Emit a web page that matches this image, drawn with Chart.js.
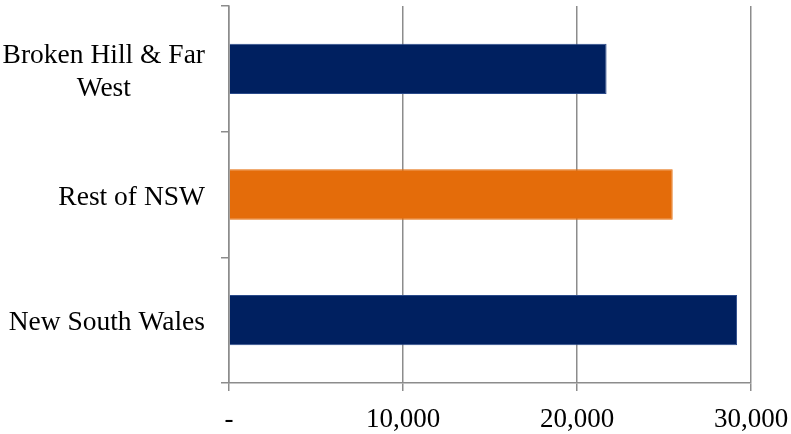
<!DOCTYPE html>
<html>
<head>
<meta charset="utf-8">
<script src="https://cdn.jsdelivr.net/npm/chart.js@4"></script>
<style>
  html, body { margin: 0; padding: 0; background: #ffffff; }
  #wrap { width: 791px; height: 434px; position: relative; }
</style>
</head>
<body>
<div id="wrap"><canvas id="c" width="791" height="434"></canvas></div>
<script>
// ---- data ----
const categories = [['Broken Hill & Far', 'West'], ['Rest of NSW'], ['New South Wales']];
const values = [21700, 25500, 29200];
const barColors = ['#002060', '#E46C0A', '#002060'];
const barBorders = ['#2a4a8a', '#E46C0A', '#2a4a8a'];
const xTickLabels = ['-', '10,000', '20,000', '30,000'];

const FONT = '"Liberation Serif", "Times New Roman", serif';
const GRID = '#8c8c8c';

const yLabelPlugin = {
  id: 'yLabels',
  afterDraw(chart) {
    const ctx = chart.ctx;
    const y = chart.scales.y;
    const right = y.right - 8 - 16;
    const lh = 33;
    ctx.save();
    ctx.font = '27.5px ' + FONT;
    ctx.fillStyle = '#000000';
    ctx.textBaseline = 'middle';
    ctx.textAlign = 'center';
    categories.forEach((lines, i) => {
      const cy = y.getPixelForValue(i) + 3;
      const widest = Math.max(...lines.map(l => ctx.measureText(l).width));
      const cx = right - widest / 2;
      const top = cy - (lines.length - 1) * lh / 2;
      lines.forEach((l, j) => ctx.fillText(l, cx, top + j * lh));
    });
    ctx.restore();
  }
};

new Chart(document.getElementById('c'), {
  type: 'bar',
  data: {
    labels: categories.map(l => l.join(' ')),
    datasets: [{
      data: values,
      backgroundColor: barColors,
      borderColor: barBorders,
      borderWidth: 1,
      barPercentage: 0.4,
      categoryPercentage: 1.0
    }]
  },
  options: {
    indexAxis: 'y',
    responsive: false,
    animation: false,
    devicePixelRatio: 1,
    layout: { padding: { top: 6, right: 40, left: 0, bottom: 0 } },
    plugins: { legend: { display: false }, tooltip: { enabled: false } },
    scales: {
      x: {
        min: 0,
        max: 30000,
        ticks: {
          stepSize: 10000,
          padding: 13,
          color: '#000000',
          font: { family: FONT, size: 27 },
          callback: (v, i) => xTickLabels[i]
        },
        grid: { color: GRID, lineWidth: 1.5, tickLength: 8, drawTicks: true },
        border: { color: GRID, width: 1.5 },
        afterFit: (s) => { s.height = 51; s.paddingRight = 0; s.paddingLeft = 0; }
      },
      y: {
        offset: true,
        ticks: { display: false },
        grid: { offset: true, drawOnChartArea: false, drawTicks: true, tickLength: 8, color: GRID, lineWidth: 1.5 },
        border: { color: GRID, width: 1.5 },
        afterFit: (s) => { s.width = 229; }
      }
    }
  },
  plugins: [yLabelPlugin]
});
</script>
</body>
</html>
